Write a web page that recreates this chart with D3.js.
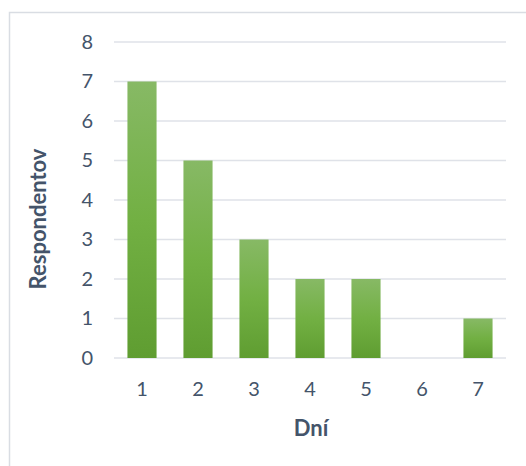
<!DOCTYPE html>
<html>
<head>
<meta charset="utf-8">
<script src="https://cdn.jsdelivr.net/npm/d3@7"></script>
<style>
  body { margin: 0; background: #fff; }
  text { font-family: Lato, "Open Sans", sans-serif; fill: #44546a; }
</style>
</head>
<body>
<div id="chart"></div>
<script>
// data
var days = ["1", "2", "3", "4", "5", "6", "7"];
var respondents = [7, 5, 3, 2, 2, 0, 1];
var yTicks = [0, 1, 2, 3, 4, 5, 6, 7, 8];

var width = 526, height = 466;
var plot = { left: 114, right: 506, top: 42, bottom: 358 };

var svg = d3.select("#chart").append("svg")
    .attr("width", width)
    .attr("height", height);

// gradient for the bars
var grad = svg.append("defs").append("linearGradient")
    .attr("id", "barGrad")
    .attr("x1", 0).attr("y1", 0).attr("x2", 0).attr("y2", 1);
grad.append("stop").attr("offset", "0%").attr("stop-color", "#87b965");
grad.append("stop").attr("offset", "50%").attr("stop-color", "#72b043");
grad.append("stop").attr("offset", "100%").attr("stop-color", "#5f9d31");

// chart frame
svg.append("rect")
    .attr("x", 9.5).attr("y", 12.5)
    .attr("width", 540).attr("height", 480)
    .attr("fill", "none")
    .attr("stroke", "#d9dde3")
    .attr("stroke-width", 1.5);

var x = d3.scaleBand()
    .domain(days)
    .range([plot.left, plot.right])
    .paddingInner(0.48)
    .paddingOuter(0.24);

var y = d3.scaleLinear()
    .domain([0, 8])
    .range([plot.bottom, plot.top]);

// gridlines
svg.append("g")
    .selectAll("line")
    .data(yTicks).enter()
    .append("line")
    .attr("x1", plot.left).attr("x2", plot.right)
    .attr("y1", function (d) { return y(d); })
    .attr("y2", function (d) { return y(d); })
    .attr("stroke", "#dfe2e8")
    .attr("stroke-width", 1.5);

// bars
svg.append("g")
    .selectAll("rect")
    .data(respondents).enter()
    .append("rect")
    .attr("x", function (d, i) { return x(days[i]); })
    .attr("y", function (d) { return y(d); })
    .attr("width", x.bandwidth())
    .attr("height", function (d) { return y(0) - y(d); })
    .attr("fill", "url(#barGrad)");

// y axis labels
var yAxis = d3.axisLeft(y).tickValues(yTicks).tickSize(0).tickPadding(21);
var gy = svg.append("g")
    .attr("transform", "translate(" + plot.left + ",0)")
    .call(yAxis);
gy.select(".domain").remove();
gy.selectAll("text")
    .style("font-family", "Lato, sans-serif")
    .style("font-size", "20px").attr("fill", "#44546a");

// x axis labels
var xAxis = d3.axisBottom(x).tickSize(0).tickPadding(24);
var gx = svg.append("g")
    .attr("transform", "translate(0," + plot.bottom + ")")
    .call(xAxis);
gx.select(".domain").remove();
gx.selectAll("text")
    .style("font-family", "Lato, sans-serif")
    .style("font-size", "20px").attr("fill", "#44546a");

// axis titles
svg.append("text")
    .attr("x", 311)
    .attr("y", 436)
    .attr("text-anchor", "middle")
    .style("font-size", "22px")
    .style("font-weight", "bold")
    .text("Dní");

svg.append("text")
    .attr("transform", "translate(46,219) rotate(-90)")
    .attr("text-anchor", "middle")
    .style("font-size", "22px")
    .style("font-weight", "bold")
    .text("Respondentov");
</script>
</body>
</html>
